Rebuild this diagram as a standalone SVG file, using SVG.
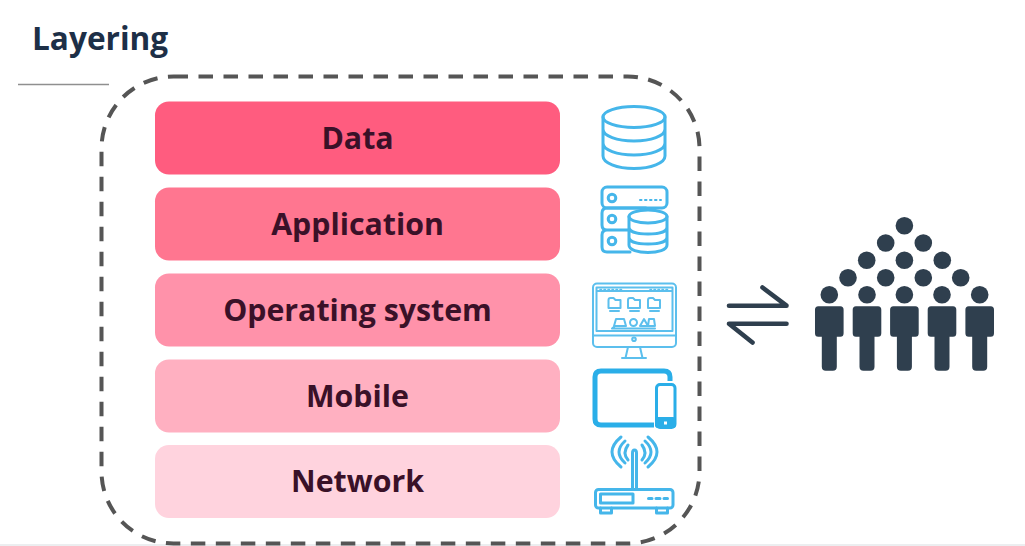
<svg xmlns="http://www.w3.org/2000/svg" width="1025" height="546" viewBox="0 0 1025 546">
<style>
.t{font-family:"Open Sans","Noto Sans",sans-serif;font-weight:700;font-size:30.300px;fill:#3a1128;text-anchor:middle}
.i{fill:none;stroke:#45b6ea;stroke-width:3;stroke-linecap:round;stroke-linejoin:round}
.i2{fill:none;stroke:#5bbfed;stroke-width:2;stroke-linecap:round;stroke-linejoin:round}
.p{fill:#2f3f4e}
.soft{filter:url(#soft)}
</style>
<defs>
<filter id="soft" x="-5%" y="-5%" width="110%" height="110%"><feGaussianBlur stdDeviation="0.4"/></filter>
<g id="person"><circle cx="0" cy="0" r="8.800"/><path d="M-11 11.500H11Q14.300 11.500 14.300 15V38.500Q14.300 42 11 42H7.500V72Q7.500 76 3.500 76H-3.500Q-7.500 76 -7.500 72V42H-11Q-14.300 42 -14.300 38.500V15Q-14.300 11.500 -11 11.500Z"/></g>
<path id="folder" d="M0 2Q0 0 2 0H5L7 2H12V10H0Z"/>
</defs>
<rect width="1025" height="546" fill="#fff"/>
<rect x="0" y="544" width="1025" height="2" fill="#eceef0"/>
<g id="title"><text x="32" y="50" style="font-family:'Open Sans','Noto Sans',sans-serif;font-weight:700;font-size:31.600px;fill:#1d2f47">Layering</text><line x1="18" y1="84.500" x2="109" y2="84.500" stroke="#8f8f8f" stroke-width="1.300"/></g>
<g id="connectors">
<rect x="101.500" y="76.500" width="598" height="467" rx="72" fill="none" stroke="#555" stroke-width="4" stroke-dasharray="14.500 10.500"/>
<path d="M729 305.700H786.500L762.500 287.500M786.500 323.700H729L752.500 342.500" fill="none" stroke="#2f3f4e" stroke-width="4.600" stroke-linecap="round" stroke-linejoin="round"/>
</g>
<g id="data"><rect x="155" y="101.500" width="405" height="73" rx="14" fill="#ff5c7f"/><text class="t" x="357.500" y="149">Data</text></g>
<g id="application"><rect x="155" y="187.500" width="405" height="73" rx="14" fill="#ff7690"/><text class="t" x="357.500" y="235">Application</text></g>
<g id="os"><rect x="155" y="273.500" width="405" height="73" rx="14" fill="#ff92aa"/><text class="t" x="357.500" y="321">Operating system</text></g>
<g id="mobile"><rect x="155" y="359.500" width="405" height="73" rx="14" fill="#ffb0c1"/><text class="t" x="357.500" y="406.500">Mobile</text></g>
<g id="network"><rect x="155" y="445" width="405" height="73" rx="14" fill="#ffd3de"/><text class="t" x="357.500" y="491.500">Network</text></g>
<g id="icon-data" class="i soft"><ellipse cx="634" cy="117" rx="31" ry="10.500"/><path d="M603 117V156C603 163 617 168.500 634 168.500S665 163 665 156V117M603 129C603 136 617 141 634 141S665 136 665 129M603 143C603 150 617 155 634 155S665 150 665 143"/></g>
<g id="icon-server" class="i soft"><rect x="602" y="187" width="65" height="21" rx="5"/><path d="M646 208H607Q602 208 602 213V225Q602 230 607 230H628M607 230Q602 230 602 235V247Q602 252 607 252H630"/><circle cx="612" cy="198" r="3.800"/><circle cx="612" cy="219" r="3.800"/><circle cx="612" cy="241" r="3.800"/><path d="M640 200H661" stroke-width="2" stroke-dasharray="1.500 3.500"/><ellipse cx="648" cy="216.500" rx="19" ry="6.500"/><path d="M629 216.500V245C629 250 638 252.500 648 252.500S667 250 667 245V216.500M629 227C629 232 638 234 648 234S667 232 667 227M629 237C629 242 638 244 648 244S667 242 667 237"/></g>
<g id="icon-monitor" class="i2 soft"><rect x="593" y="283.500" width="83" height="63.500" rx="4"/><rect x="596.500" y="287.500" width="76" height="43.500"/><path d="M593 335.500H676M597.500 291H672" /><path d="M600 289.500H622M650 289.500H670" stroke-width="1.500" stroke-dasharray="1.500 2.500"/><circle cx="634" cy="339.300" r="1.800"/><path d="M628 347L625.500 358H642.500L640 347M622 358H646"/><use href="#folder" x="608.500" y="298"/><use href="#folder" x="628" y="298"/><use href="#folder" x="648" y="298"/><path d="M610 311H619M630 311H639M650 311H659M616 319H624L626 326H614ZM630 322.500A3.500 3.500 0 1 0 637 322.500A3.500 3.500 0 1 0 630 322.500M640 326L644 319L648 326ZM649 319H654L655 326H648ZM615 326L612 328.500H655"/></g>
<g id="icon-tablet" class="soft"><path d="M654 425H601Q595 425 595 419V377Q595 371 601 371H664Q670 371 670 377V381" fill="none" stroke="#29aee8" stroke-width="5"/><rect x="656.500" y="384.500" width="18.500" height="43" rx="3.500" fill="#fff" stroke="#29aee8" stroke-width="3"/><rect x="655" y="417" width="21" height="11" rx="3" fill="#29aee8"/><rect x="664" y="421.500" width="3" height="3" fill="#fff"/></g>
<g id="icon-router" class="i soft"><path d="M632.500 488V453Q632.500 450 634.500 450Q636.500 450 636.500 453V488"/><path d="M628 445Q622 453 628 460M625 441Q613 452 625 463M621 437Q603 452 621 467M642 445Q648 453 642 460M645 441Q657 452 645 463M648 437Q666 452 648 467"/><rect x="595.500" y="489.500" width="77.500" height="18.500" rx="3"/><rect x="600.500" y="494" width="32.500" height="9"/><path d="M648.500 498.500H652M656 498.500H660M664 498.500H667.500"/><path d="M600.500 508V513H611.500V508M656.500 508V513H667.500V508"/></g>
<g id="people" class="p">
<use href="#person" x="829.300" y="294.700"/><use href="#person" x="867" y="294.700"/><use href="#person" x="904.400" y="294.700"/><use href="#person" x="942" y="294.700"/><use href="#person" x="979.700" y="294.700"/>
<circle cx="848" cy="277.700" r="8.800"/><circle cx="885.700" cy="277.700" r="8.800"/><circle cx="923.300" cy="277.700" r="8.800"/><circle cx="960.700" cy="277.700" r="8.800"/>
<circle cx="866.700" cy="260.300" r="8.800"/><circle cx="904.400" cy="260.300" r="8.800"/><circle cx="942.300" cy="260.300" r="8.800"/>
<circle cx="885.700" cy="243" r="8.800"/><circle cx="923.300" cy="243" r="8.800"/><circle cx="904.400" cy="225.700" r="8.800"/>
</g>
</svg>
